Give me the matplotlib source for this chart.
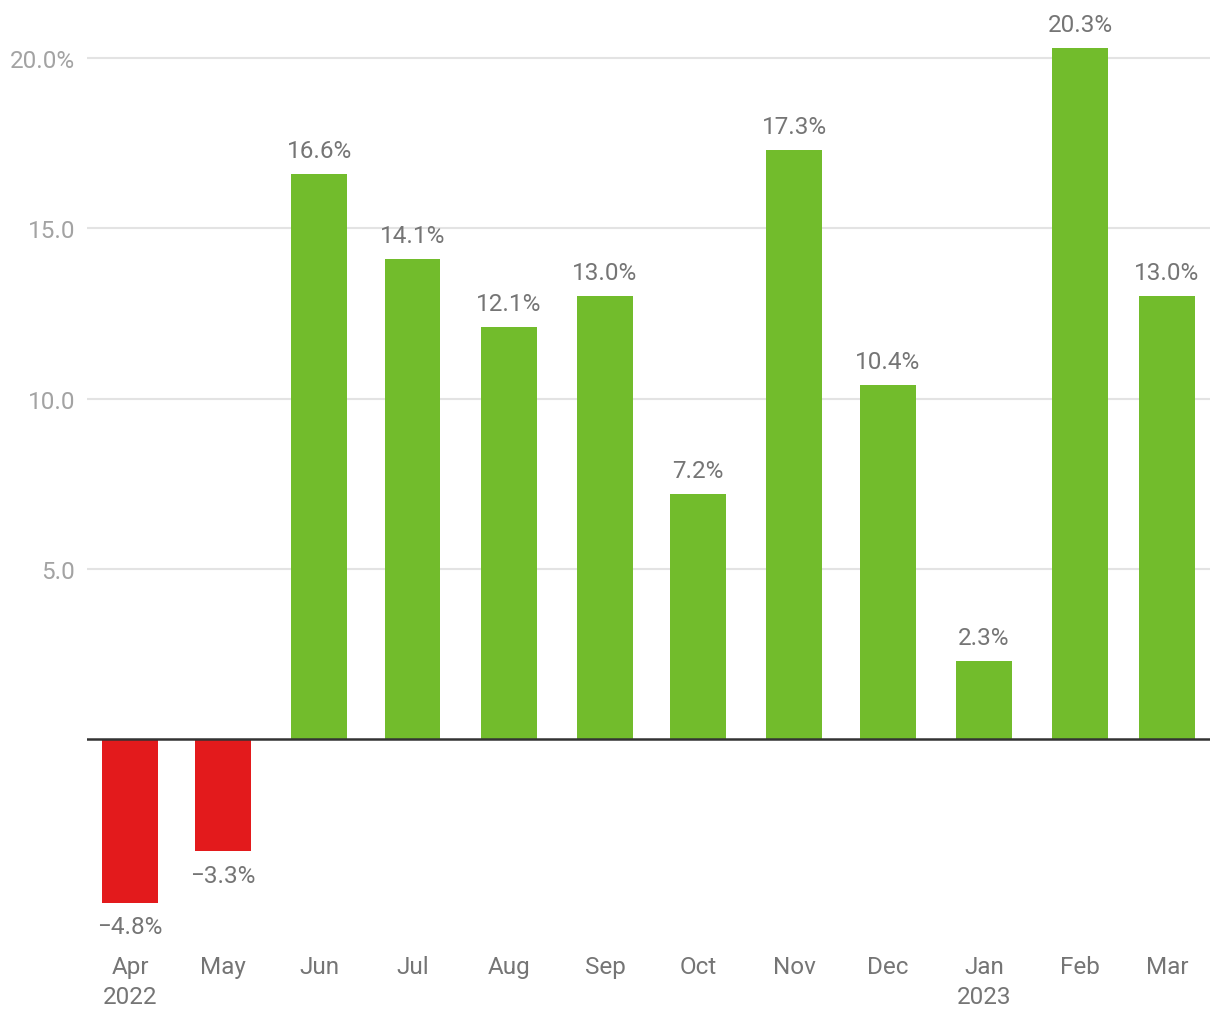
import matplotlib
matplotlib.use("Agg")
import matplotlib.pyplot as plt
import matplotlib.dates as mdates
import pandas as pd

# monthly growth, Apr 2022 - Mar 2023
months = ["2022-04-01", "2022-05-01", "2022-06-01", "2022-07-01", "2022-08-01", "2022-09-01",
          "2022-10-01", "2022-11-01", "2022-12-01", "2023-01-01", "2023-02-01", "2023-03-01"]
values = [-4.8, -3.3, 16.6, 14.1, 12.1, 13.0, 7.2, 17.3, 10.4, 2.3, 20.3, 13.0]
tick_labels = ["Apr\n2022", "May", "Jun", "Jul", "Aug", "Sep", "Oct", "Nov", "Dec", "Jan\n2023", "Feb", "Mar"]
yticks = [5, 10, 15, 20]
ytick_labels = ["5.0", "10.0", "15.0", "20.0%"]

plt.rcParams["font.family"] = ["Roboto", "DejaVu Sans"]

x = mdates.date2num(pd.to_datetime(months))
colors = ["#e31a1c" if v < 0 else "#72bc2c" for v in values]

fig = plt.figure(figsize=(12.2, 10.2), dpi=100)
ax = fig.add_axes([87 / 1220, 1 - 941 / 1020, (1210 - 87) / 1220, 930 / 1020])

ax.bar(x, values, width=18, color=colors, zorder=2)

for xi, v in zip(x, values):
    txt = f"{v:.1f}%".replace("-", "\u2212")
    off = 17 if v >= 0 else -17
    ax.annotate(txt, (xi, v), xytext=(0, off), textcoords="offset points",
                ha="center", va="center", fontsize=17.5, color="#757575")

ax.set_xlim(x[0] - 13.85, x[-1] + 13.85)
ax.set_ylim(-5.9, 21.41)

ax.set_yticks(yticks)
ax.set_yticklabels(ytick_labels)
ax.set_xticks(x)
ax.set_xticklabels(tick_labels, linespacing=1.37)
ax.tick_params(axis="y", length=0, pad=8.6, labelsize=17.5, labelcolor="#a3a3a3")
ax.tick_params(axis="x", length=0, pad=11, labelsize=17.5, labelcolor="#757575")

ax.grid(axis="y", color="#e3e3e3", linewidth=1.5, zorder=0)
ax.axhline(0, color="#333333", linewidth=1.8, zorder=3)
for s in ax.spines.values():
    s.set_visible(False)

fig.savefig("out.png", dpi=100)
